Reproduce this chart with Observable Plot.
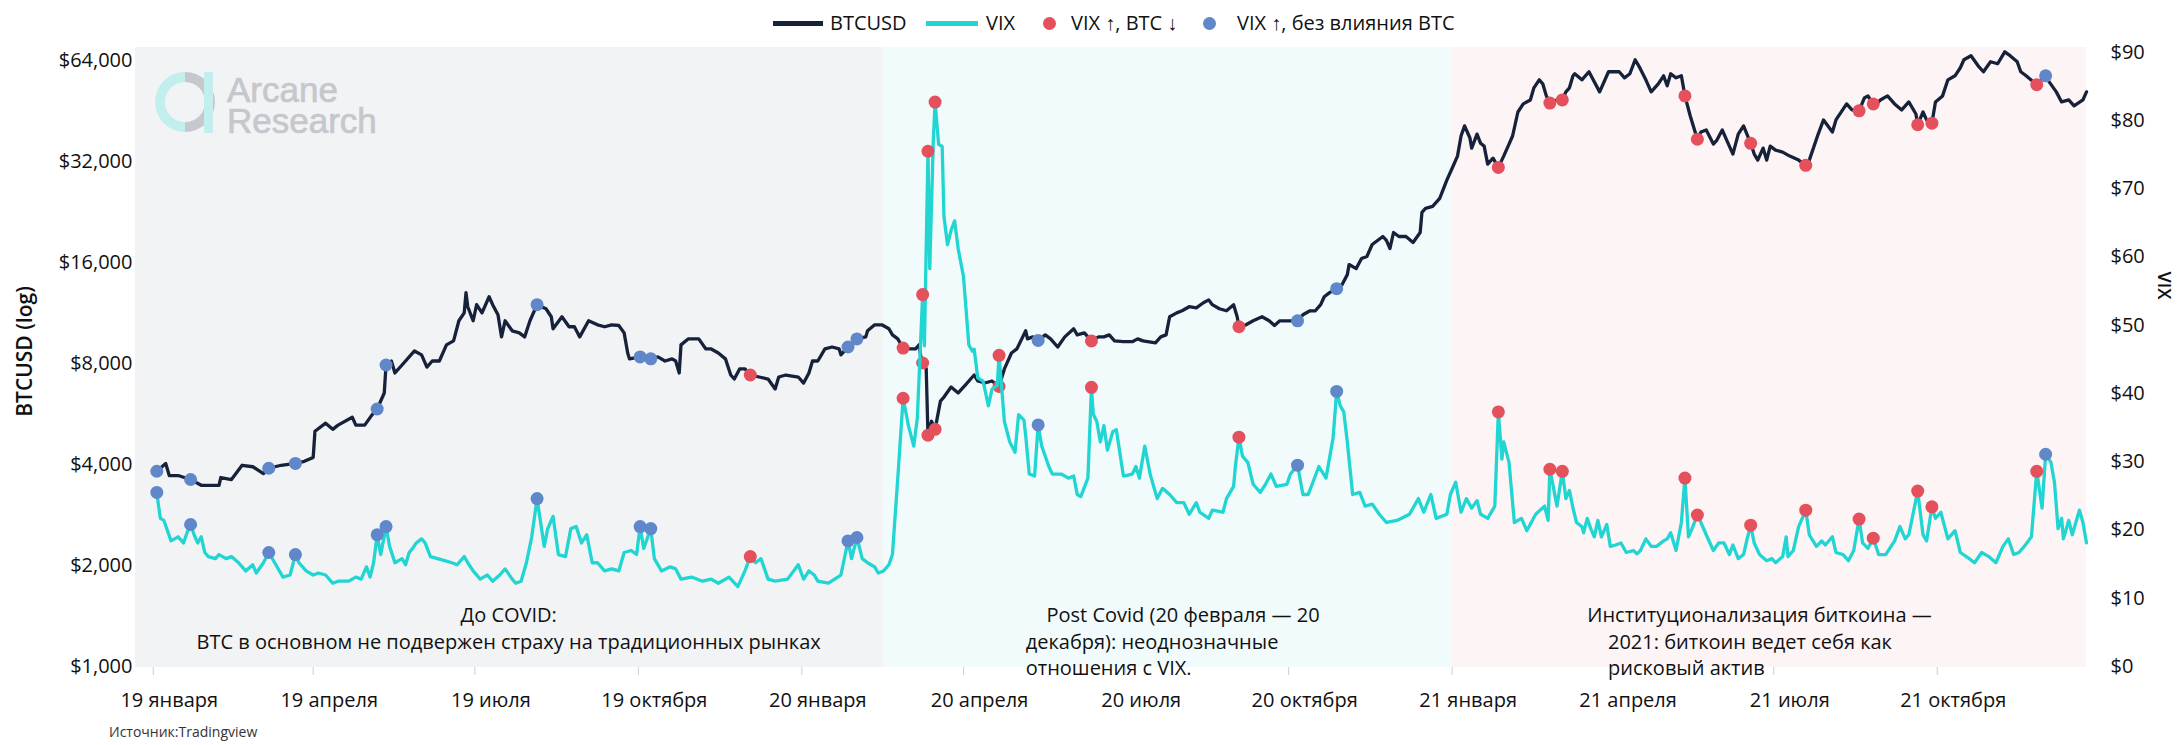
<!DOCTYPE html>
<html>
<head>
<meta charset="utf-8">
<script src="https://cdn.jsdelivr.net/npm/d3@7"></script>
<script src="https://cdn.jsdelivr.net/npm/@observablehq/plot@0.6"></script>
<style>
  body { margin: 0; background: #fff; font-family: "Open Sans", sans-serif; color: #111; }
  #wrap { position: relative; width: 2183px; height: 745px; overflow: hidden; }
  #wrap > svg { position: absolute; left: 0; top: 0; }
  .abs { position: absolute; white-space: nowrap; }
  .lt { font-size: 20px; line-height: 30px; top: 8px; color: #111; }
  .sw { height: 5px; top: 21px; }
  .dt { width: 13px; height: 13px; border-radius: 50%; top: 17px; }
</style>
</head>
<body>
<div id="wrap"></div>
<script>
// ---- data (days counted from 2019-01-01) ----
const btcDay = [2,7,9,14,21,27,37,38,44,50,56,62,65,72,80,85,90,91,97,101,104,112,114,119,123,126,130,131,134,136,140,147,151,154,157,161,165,169,172,175,176,177,180,182,185,189,191,194,196,198,202,206,209,212,216,221,224,225,230,234,237,240,245,250,254,258,262,265,267,268,274,280,284,288,292,294,296,297,301,307,311,314,318,322,325,327,330,333,336,341,346,350,352,356,363,366,369,371,374,378,382,386,387,391,396,401,402,406,410,414,416,419,422,426,429,431,432,433,435,436,438,440,443,445,449,453,457,460,462,464,468,472,476,479,483,486,491,492,495,498,502,505,509,513,518,520,524,528,532,535,538,541,546,551,554,557,564,567,570,572,576,579,583,587,591,594,596,600,604,608,610,611,615,619,624,628,631,634,640,644,647,651,654,657,659,662,666,669,672,673,677,680,683,686,689,692,694,696,698,701,705,709,713,714,716,720,724,728,731,734,736,738,741,742,745,747,749,751,754,757,760,763,765,768,771,775,777,780,782,784,786,790,793,795,797,799,800,804,808,814,819,825,828,831,834,836,840,843,847,850,852,854,857,860,862,865,869,871,874,878,880,883,886,889,892,895,899,901,903,906,908,910,913,917,921,926,930,932,937,940,945,947,953,956,960,963,965,968,970,972,976,980,984,988,992,993,996,998,1001,1003,1007,1010,1014,1017,1019,1023,1027,1030,1034,1038,1042,1045,1049,1051,1054,1060,1065,1067,1071,1074,1078,1081,1086,1088];
const btcVal = [3810,4020,3700,3700,3600,3460,3460,3650,3600,3970,3930,3750,3890,3970,4020,4080,4190,5015,5300,5080,5230,5520,5230,5230,5600,5840,6520,7900,8120,7480,7900,8700,8470,7790,8120,8120,9070,9320,10700,11300,12980,11780,10700,11950,11300,12620,11950,11150,9580,10700,9990,9850,9580,10700,11950,11620,11000,10130,11000,10270,10270,9580,10700,10410,10270,10410,10360,9850,8580,8240,8350,8240,8350,8120,8240,8120,7480,9070,9450,9450,8820,8820,8580,8240,7375,7175,7690,7690,7375,7275,7175,6700,7275,7375,7275,6980,7480,8120,8120,8820,8940,8820,8470,8940,9450,9580,9990,10410,10410,10130,9715,9450,8870,8820,8820,9070,8350,8010,7700,4880,5370,5080,6165,6340,6790,6520,6885,7175,7375,7077,6980,7077,6820,7690,8580,8820,9990,9450,9580,9350,9715,9450,8940,9580,10130,9715,9850,9320,9580,9580,9715,9320,9270,9270,9450,9320,9200,9580,9715,11000,11300,11460,11785,11690,12110,12350,11950,11620,11460,11950,11000,10270,10410,10700,11000,10700,10360,10700,10700,10700,11150,11460,11460,11950,12620,12980,13340,13710,14690,15740,15310,16400,16630,18060,18570,19080,18570,17570,19610,19080,19080,18310,19610,22520,23150,23470,24800,28080,30480,33130,38030,40750,37500,35000,38530,36170,35470,31350,32670,30660,33130,35970,38030,44840,47400,48700,52930,55910,54400,50080,47670,48700,48700,51480,52930,57480,58290,55910,59090,51480,59090,59090,56690,58290,64180,61560,55910,51480,54400,57480,53660,58290,56690,57480,50080,43630,37190,39070,39620,35970,36980,39620,36470,33590,38530,40750,36170,33590,32230,35000,32230,35470,34520,34050,33130,32230,31090,32230,38530,42460,39070,42460,47400,45480,45200,49380,50080,47400,47400,48700,50080,47400,45480,48040,44230,41080,44840,42460,41540,48040,50080,55910,57480,60730,64180,65980,61560,59090,63300,62440,67770,65980,63300,59090,57480,54090,57480,55140,51480,48040,48700,46750,48700,51480];

const vixDay = [2,3,4,6,8,10,12,14,17,19,21,23,25,27,29,31,35,37,41,44,48,52,56,58,62,65,69,73,77,80,82,86,90,93,97,101,104,110,114,117,120,122,124,126,128,131,133,136,140,142,144,146,148,151,153,156,160,164,168,171,175,177,180,184,188,191,195,198,202,204,207,210,213,216,218,220,222,225,228,232,235,238,241,244,247,250,254,258,262,265,269,272,274,276,280,282,286,291,294,297,303,309,314,318,324,329,333,336,339,342,346,350,357,363,366,369,372,374,380,387,391,393,396,399,402,406,408,411,414,416,419,422,425,428,430,433,434,436,437,439,440,442,444,445,447,449,451,453,456,459,461,462,464,467,470,472,475,476,479,482,485,487,490,491,493,496,498,500,504,506,511,515,518,520,522,526,528,529,531,533,535,537,540,542,546,551,553,555,558,561,565,568,572,576,580,583,587,589,594,596,602,604,608,609,611,613,616,619,623,626,629,632,638,640,644,647,650,656,660,664,666,668,670,672,675,679,682,686,690,694,700,707,712,715,719,722,728,730,733,736,739,742,745,747,751,755,757,759,760,763,766,770,773,778,783,785,786,790,793,795,797,799,801,804,805,807,809,811,813,815,818,820,823,826,829,833,835,837,840,843,846,850,852,854,857,860,862,864,866,869,871,874,878,881,884,887,889,892,895,897,899,901,904,908,911,913,917,919,920,923,926,930,932,936,939,941,945,947,951,954,957,960,962,965,968,971,975,980,983,986,988,993,996,998,1001,1003,1006,1010,1014,1017,1022,1025,1029,1033,1037,1041,1044,1047,1050,1053,1057,1060,1063,1065,1068,1070,1072,1074,1075,1078,1080,1084,1086,1088];
const vixVal = [25.5,23.5,21.7,21.4,19.9,18.4,18.7,19.0,18.1,19.6,20.8,19.3,18.1,19.0,16.7,16.1,15.8,16.4,15.8,16.1,15.2,14.0,14.9,13.7,15.2,16.7,14.9,13.1,13.4,16.4,15.2,14.0,13.4,13.7,13.4,12.2,12.5,12.5,13.1,12.8,14.6,13.1,15.2,19.3,16.4,20.5,17.6,15.2,15.8,14.9,16.7,17.3,18.1,18.7,18.1,16.1,15.8,15.5,15.2,14.9,16.1,15.2,14.0,12.8,13.4,12.5,13.4,14.3,12.8,12.2,12.5,15.2,19.0,24.6,21.1,17.6,20.2,22.0,16.4,16.1,20.2,20.5,18.1,19.3,15.2,15.2,14.0,14.3,14.0,16.7,17.0,16.4,20.5,17.3,20.2,15.8,14.0,14.6,14.3,12.8,13.1,12.5,12.8,12.2,13.1,11.7,14.0,16.1,15.2,15.8,12.8,12.5,12.8,14.9,12.8,14.0,13.4,12.5,12.2,13.4,18.4,15.8,18.9,15.8,15.2,14.6,13.7,14.0,14.9,16.4,27.6,39.3,35.3,32.3,36.4,54.5,47.0,75.5,58.3,77.1,82.7,76.5,76.2,65.9,61.8,63.9,65.3,61.2,57.1,47.1,46.2,46.5,42.3,41.8,38.2,40.6,41.2,45.6,35.9,32.9,31.4,36.9,36.1,33.8,28.2,27.9,35.4,32.3,29.3,28.2,28.2,27.6,27.9,25.2,24.9,27.6,40.9,37.0,35.9,32.9,35.3,31.7,34.4,34.7,27.9,28.2,29.3,27.6,32.3,28.2,24.6,26.1,25.2,24.0,24.0,22.3,24.0,22.6,21.7,22.9,22.6,24.6,26.4,29.3,33.6,30.8,29.9,26.7,25.5,26.7,28.2,26.4,26.7,28.2,29.5,25.2,25.2,29.3,27.6,33.5,40.3,38.2,37.3,32.9,25.2,25.5,23.5,23.8,22.3,21.1,21.4,22.3,24.6,22.6,25.2,21.7,22.3,25.2,27.0,22.6,24.6,23.2,24.3,22.3,21.7,23.5,37.3,30.4,32.9,29.9,21.1,21.7,19.9,22.3,23.5,21.4,28.9,23.5,28.6,24.6,25.8,23.2,21.1,20.5,19.6,21.7,20.2,19.0,21.4,19.0,20.8,17.6,17.8,18.1,16.7,17.0,16.5,17.0,18.7,17.6,17.6,18.4,18.7,19.6,17.0,21.1,27.6,19.0,20.2,22.2,21.1,19.3,17.0,18.1,18.1,16.4,17.8,15.8,16.4,18.7,20.7,18.1,16.4,15.5,15.8,15.2,16.1,19.0,16.1,17.0,20.5,22.9,19.3,17.6,18.4,17.8,19.0,16.7,16.4,15.5,17.0,21.6,18.1,17.3,18.8,16.4,16.4,18.4,20.5,18.7,19.3,25.7,19.3,18.4,23.4,21.7,22.6,18.7,19.9,16.7,15.8,15.2,16.7,16.1,15.2,17.6,18.7,16.4,16.7,17.6,19.0,28.6,23.2,31.1,29.9,26.9,20.2,21.7,18.7,21.4,19.3,22.9,21.1,18.1];

// VIX rising events
const redDays  = [336,422,433,436,440,476,528,611,757,786,793,862,869,899,930,960,968,993,1001,1060]; // VIX ↑, BTC ↓
const blueDays = [2,21,65,80,126,131,216,274,280,391,396,498,644,666,1065];                          // VIX ↑, без влияния BTC

// background periods
const periodStart = ["2018-12-22", "2020-02-16", "2021-01-01"];
const periodEnd   = ["2020-02-16", "2021-01-01", "2021-12-24"];
const periodFill  = ["#f2f3f5", "#f2fbfc", "#fdf4f5"];

// axes
const xTickDates  = ["2019-01-01","2019-04-01","2019-07-01","2019-10-01","2020-01-01","2020-04-01","2020-07-01","2020-10-01","2021-01-01","2021-04-01","2021-07-01","2021-10-01"];
const xTickLabels = ["19 января","19 апреля","19 июля","19 октября","20 января","20 апреля","20 июля","20 октября","21 января","21 апреля","21 июля","21 октября"];
const btcTicks = [1000, 2000, 4000, 8000, 16000, 32000, 64000];
const vixTicks = [0, 10, 20, 30, 40, 50, 60, 70, 80, 90];

// annotations
const noteText = [
  "До COVID:\nBTC в основном не подвержен страху на традиционных рынках",
  "\u00a0\u00a0\u00a0\u00a0Post Covid (20 февраля — 20\nдекабря): неоднозначные\nотношения с VIX.",
  "Институционализация биткоина —\n\u00a0\u00a0\u00a0\u00a02021: биткоин ведет себя как\n\u00a0\u00a0\u00a0\u00a0рисковый актив"
];
const noteDate   = ["2019-07-20", "2020-05-06", "2021-03-18"];
const noteAnchor = ["middle", "start", "start"];

// ---- build ----
const base = Date.UTC(2019, 0, 1);
const toDate = d => new Date(base + d * 864e5);
const btc = btcDay.map((d, i) => ({date: toDate(d), value: btcVal[i]}));
const vix = vixDay.map((d, i) => ({date: toDate(d), value: vixVal[i]}));
const btcBy = new Map(btcDay.map((d, i) => [d, btcVal[i]]));
const vixBy = new Map(vixDay.map((d, i) => [d, vixVal[i]]));
const RED = "#e4505b", BLUE = "#5f87c9";
const events = [
  ...redDays.map(d => ({d, c: RED})),
  ...blueDays.map(d => ({d, c: BLUE}))
].map(e => ({date: toDate(e.d), btc: btcBy.get(e.d), vix: vixBy.get(e.d), c: e.c}));
const periods = periodStart.map((s, i) => ({start: new Date(s), end: new Date(periodEnd[i]), fill: periodFill[i]}));
const notes = noteText.map((t, i) => ({text: t, date: new Date(noteDate[i]), anchor: noteAnchor[i]}));
const tickDates = xTickDates.map(s => new Date(s));
const labelOf = new Map(tickDates.map((d, i) => [+d, xTickLabels[i]]));

const xDomain = [new Date("2018-12-22"), new Date("2021-12-24")];
const common = {
  width: 2183, height: 745,
  marginLeft: 135, marginRight: 97, marginTop: 47, marginBottom: 78
};
const font = '"Open Sans", sans-serif';
const BTC_COLOR = "#16213a", VIX_COLOR = "#20d5d2";

const plot1 = Plot.plot({
  ...common,
  style: {fontFamily: font, fontSize: "20px", color: "#111", background: "white", overflow: "visible"},
  x: {type: "utc", domain: xDomain},
  y: {type: "log", domain: [991, 69800], axis: null},
  color: {type: "identity"},
  marks: [
    Plot.rect(periods, {x1: "start", x2: "end", fill: "fill"}),
    ...notes.map(n => Plot.text([n], {
      x: "date", text: "text", frameAnchor: "bottom", textAnchor: n.anchor,
      lineAnchor: "top", lineHeight: 1.325, dy: -64, fontSize: 20, fill: "#111"
    })),
    // left axis labels (log scale): one label per tick value
    Plot.text(btcTicks, {y: d => d, text: d3.format("$,"), frameAnchor: "left", textAnchor: "end", dx: -3, fontSize: 20, fill: "#111"}),
    Plot.axisX({ticks: tickDates, tickSize: 8, tickFormat: () => "", stroke: "#cfcfcf", label: null}),
    Plot.axisX({ticks: tickDates, tickSize: 0, tickPadding: 25, tickFormat: d => labelOf.get(+d), dx: 16, fontSize: 20, label: null}),
    Plot.text(["BTCUSD (log)"], {frameAnchor: "left", textAnchor: "middle", dx: -110, dy: -6, rotate: -90, fontSize: 21, fontWeight: 600, fill: "#111"}),
    Plot.line(btc, {x: "date", y: "value", stroke: BTC_COLOR, strokeWidth: 3.3, strokeLinejoin: "round"}),
    Plot.dot(events, {x: "date", y: "btc", r: 6.5, fill: "c", stroke: null})
  ]
});

const plot2 = Plot.plot({
  ...common,
  style: {fontFamily: font, fontSize: "20px", color: "#111", background: "transparent", overflow: "visible"},
  x: {type: "utc", domain: xDomain, axis: null},
  y: {domain: [-0.15, 90.7]},
  color: {type: "identity"},
  marks: [
    Plot.axisY({anchor: "right", ticks: vixTicks, tickFormat: d => "$" + d, tickSize: 0, tickPadding: 24, fontSize: 20, label: null}),
    Plot.text(["VIX"], {frameAnchor: "top-right", textAnchor: "middle", dx: 84, dy: 238, rotate: 90, fontSize: 18, fontWeight: 600, fill: "#111"}),
    Plot.line(vix, {x: "date", y: "value", stroke: VIX_COLOR, strokeWidth: 3.3, strokeLinejoin: "round"}),
    Plot.dot(events, {x: "date", y: "vix", r: 6.5, fill: "c", stroke: null})
  ]
});

const wrap = document.getElementById("wrap");
wrap.appendChild(plot1);

// logo (decoration)
const NS = "http://www.w3.org/2000/svg";
const logo = document.createElementNS(NS, "svg");
logo.setAttribute("width", "2183"); logo.setAttribute("height", "745");
logo.innerHTML = `
  <path d="M185,72 A30,30 0 0,0 185,132 L185,122 A20,20 0 0,1 185,82 Z" fill="#c3eeee"/>
  <path d="M185,72 A30,30 0 0,1 185,132 L185,122 A20,20 0 0,0 185,82 Z" fill="#c7c8ce"/>
  <rect x="204" y="72" width="9" height="61" fill="#c3eeee"/>
  <text font-family="Liberation Sans, Arial, sans-serif" font-size="35" fill="#c6c7cd" stroke="#c6c7cd" stroke-width="0.7"><tspan x="227" y="102">Arcane</tspan><tspan x="227" y="133">Research</tspan></text>`;
wrap.appendChild(logo);
wrap.appendChild(plot2);

// legend (HTML above chart) and source caption
const legendItems = [
  `<div class="abs sw" style="left:773px;width:50px;background:${BTC_COLOR}"></div>`,
  `<div class="abs lt" style="left:830px">BTCUSD</div>`,
  `<div class="abs sw" style="left:926px;width:52px;background:${VIX_COLOR}"></div>`,
  `<div class="abs lt" style="left:986px">VIX</div>`,
  `<div class="abs dt" style="left:1043px;background:${RED}"></div>`,
  `<div class="abs lt" style="left:1071px">VIX ↑, BTC ↓</div>`,
  `<div class="abs dt" style="left:1203px;background:${BLUE}"></div>`,
  `<div class="abs lt" style="left:1237px">VIX ↑, без влияния BTC</div>`,
  `<div class="abs" style="left:109px;top:722px;font-size:14px;line-height:20px;color:#333">Источник:Tradingview</div>`
];
wrap.insertAdjacentHTML("beforeend", legendItems.join(""));
</script>
</body>
</html>
